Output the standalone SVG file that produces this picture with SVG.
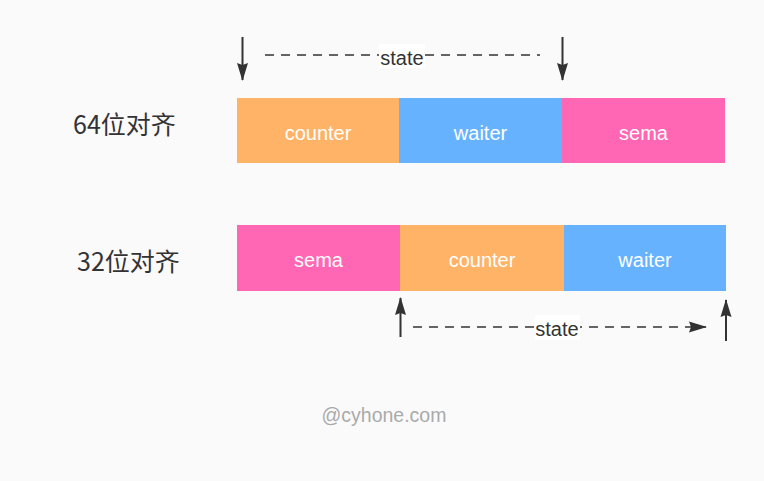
<svg xmlns="http://www.w3.org/2000/svg" width="764" height="481" viewBox="0 0 764 481">
<defs>
<marker id="ah2" markerWidth="18" markerHeight="12" refX="17" refY="6" orient="auto" markerUnits="userSpaceOnUse" viewBox="0 0 18 12">
<path d="M0,0.5 L18,6 L0,11.5 L2,6 Z" fill="#333"/>
</marker>
</defs>
<style>
.cell text{font-family:"Liberation Sans","Noto Sans CJK SC",sans-serif;font-size:20px;fill:#fff;text-anchor:middle}
.lbl{font-family:"Noto Sans CJK SC","Liberation Sans",sans-serif;font-size:25px;fill:#333}
.st{font-family:"Liberation Sans",sans-serif;font-size:20px;fill:#333;text-anchor:middle}
.orange{fill:#FFB366}
.blue{fill:#66B2FF}
.pink{fill:#FF66B3}
.arr{stroke:#333;stroke-width:2;fill:none}
.dash{stroke:#333;stroke-width:1.6;stroke-dasharray:9 7;fill:none}
</style>
<rect width="764" height="481" fill="#FAFAFA"/>
<g id="label64"><text class="lbl" x="73" y="134">64位对齐</text></g>
<g id="label32"><text class="lbl" x="77" y="271">32位对齐</text></g>
<g id="row64-counter" class="cell"><rect class="orange" x="237" y="98" width="162" height="65"/><text x="318" y="140">counter</text></g>
<g id="row64-waiter" class="cell"><rect class="blue" x="399" y="98" width="163" height="65"/><text x="480.5" y="140">waiter</text></g>
<g id="row64-sema" class="cell"><rect class="pink" x="562" y="98" width="163" height="65"/><text x="643.5" y="140">sema</text></g>
<g id="row32-sema" class="cell"><rect class="pink" x="237" y="225" width="163" height="66"/><text x="318.5" y="267">sema</text></g>
<g id="row32-counter" class="cell"><rect class="orange" x="400" y="225" width="164" height="66"/><text x="482" y="267">counter</text></g>
<g id="row32-waiter" class="cell"><rect class="blue" x="564" y="225" width="162" height="66"/><text x="645" y="267">waiter</text></g>
<g id="connectors">
<line class="arr" x1="242.5" y1="37" x2="242.5" y2="80" marker-end="url(#ah2)"/>
<line class="arr" x1="562.5" y1="37" x2="562.5" y2="80" marker-end="url(#ah2)"/>
<line class="dash" x1="265" y1="55" x2="540" y2="55"/>
<rect x="379" y="44" width="46" height="24" fill="#fff"/>
<text class="st" x="402" y="65">state</text>
<line class="arr" x1="400.5" y1="337" x2="400.5" y2="298" marker-end="url(#ah2)"/>
<line class="arr" x1="726" y1="341" x2="726" y2="300" marker-end="url(#ah2)"/>
<line class="dash" x1="413" y1="327" x2="706" y2="327" marker-end="url(#ah2)"/>
<rect x="535" y="315" width="45" height="25" fill="#fff"/>
<text class="st" x="557" y="336">state</text>
</g>
<text x="384" y="422" font-family="Liberation Sans, sans-serif" font-size="19.5" fill="#AAAAAA" text-anchor="middle">@cyhone.com</text>
</svg>
